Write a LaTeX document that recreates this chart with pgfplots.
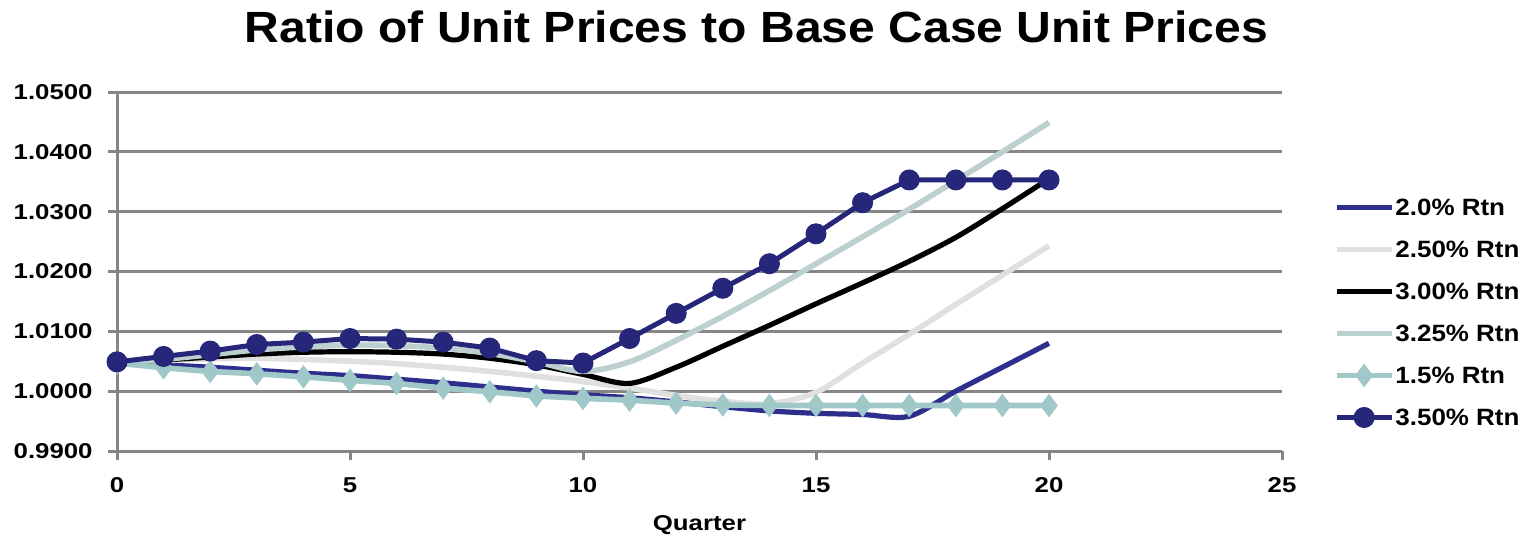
\documentclass[border=0pt]{standalone}
\usepackage{pgfplots}
\pgfplotsset{compat=1.18}
\usepackage{pgfplotstable}
\usepackage{fontspec}
\setmainfont{Liberation Sans}
\newfontfamily\titlefam{Liberation Sans}[FakeStretch=1.1]
\newfontfamily\tickfam{Liberation Sans}[FakeStretch=1.2]
\newfontfamily\legfam{Liberation Sans}[FakeStretch=1.1]

\definecolor{gridgray}{RGB}{134,134,134}
\definecolor{rtnA}{RGB}{46,46,140}   % 2.0%
\definecolor{rtnB}{RGB}{224,224,224} % 2.50%
\definecolor{rtnC}{RGB}{0,0,0}       % 3.00%
\definecolor{rtnD}{RGB}{188,208,208} % 3.25%
\definecolor{rtnE}{RGB}{160,200,200} % 1.5%
\definecolor{rtnF}{RGB}{38,38,122}   % 3.50%

% quarter  2.0   2.50   3.00   3.25   1.5   3.50
\pgfplotstableread{
q  r20     r25     r30     r325    r15     r35
0  1.0047  1.0047  1.0047  1.0047  1.0047  1.0049
1  1.0044  1.0051  1.0052  1.0053  1.0039  1.0058
2  1.0040  1.0054  1.0057  1.0061  1.0033  1.0067
3  1.0035  1.0055  1.0062  1.0069  1.0029  1.0078
4  1.0030  1.0053  1.0065  1.0074  1.0024  1.0082
5  1.0026  1.0050  1.0066  1.0077  1.0018  1.0088
6  1.0020  1.0046  1.0065  1.0076  1.0013  1.0087
7  1.0014  1.0040  1.0062  1.0072  1.0005  1.0082
8  1.0007  1.0033  1.0055  1.0063  0.9999  1.0072
9  1.0000  1.0025  1.0044  1.0049  0.9992  1.0051
10 0.9994  1.0016  1.0028  1.0033  0.9988  1.0047
11 0.9989  1.0005  1.0013  1.0049  0.9985  1.0088
12 0.9982  0.9993  1.0040  1.0085  0.9980  1.0130
13 0.9974  0.9983  1.0075  1.0125  0.9977  1.0172
14 0.9967  0.9979  1.0110  1.0168  0.9976  1.0213
15 0.9963  0.9998  1.0146  1.0213  0.9976  1.0263
16 0.9961  1.0047  1.0181  1.0258  0.9976  1.0315
17 0.9958  1.0095  1.0217  1.0304  0.9976  1.0353
18 1.0000  1.0145  1.0257  1.0352  0.9976  1.0353
19 1.0040  1.0194  1.0305  1.0400  0.9976  1.0353
20 1.0080  1.0243  1.0355  1.0449  0.9976  1.0353
}\rtndata

\begin{document}
\begin{tikzpicture}
\useasboundingbox (0,0) rectangle (763pt,268.5pt);
\begin{axis}[
  at={(58.5pt,43pt)}, anchor=south west,
  scale only axis, width=582.5pt, height=179.5pt,
  xmin=0, xmax=25, ymin=0.99, ymax=1.05,
  xtick={0,5,...,25},
  ytick={0.99,1.00,...,1.05},
  axis x line*=bottom, axis y line*=left,
  axis line style={gridgray, line width=1.5pt},
  ymajorgrids, major grid style={gridgray, line width=1.5pt},
  tick align=outside, major tick length=4.5pt,
  tick style={gridgray, line width=1.5pt},
  clip=false,
  /pgf/number format/assume math mode=true,
  y tick label style={/pgf/number format/fixed, /pgf/number format/fixed zerofill,
    /pgf/number format/precision=4},
  ticklabel style={font=\tickfam\bfseries\fontsize{10.75pt}{12pt}\selectfont, inner sep=0pt},
  yticklabel style={anchor=east, xshift=-7.5pt},
  xticklabel style={anchor=north, yshift=-8.5pt},
  xlabel={Quarter},
  xlabel style={font=\tickfam\bfseries\fontsize{10.75pt}{12pt}\selectfont,
    at={(axis description cs:0.5,0)}, anchor=base, yshift=-39.5pt},
  legend style={draw=none, fill=none, at={(1.0445,0.3858)}, anchor=west,
    inner sep=0pt, outer sep=0pt, row sep=0pt,
    font=\legfam\bfseries\fontsize{11.8pt}{13pt}\selectfont,
    nodes={inner sep=0pt, text height=14.7pt, text depth=6.3pt},
    /tikz/every odd column/.style={column sep=0.5pt}},
  legend cell align=left,
  legend image code/.code={
    \draw[#1, mark repeat=2, mark phase=2]
      plot coordinates {(0pt,0pt) (13.75pt,0pt) (27.5pt,0pt)};},
]
\addplot[rtnA, line width=2.6pt, smooth, no markers] table[x=q, y=r20] {\rtndata};
\addlegendentry{2.0\% Rtn}
\addplot[rtnB, line width=2.8pt, smooth, no markers] table[x=q, y=r25] {\rtndata};
\addlegendentry{2.50\% Rtn}
\addplot[rtnC, line width=2.6pt, smooth, no markers] table[x=q, y=r30] {\rtndata};
\addlegendentry{3.00\% Rtn}
\addplot[rtnD, line width=2.8pt, smooth, no markers] table[x=q, y=r325] {\rtndata};
\addlegendentry{3.25\% Rtn}
\addplot[rtnE, line width=2.8pt, mark=diamond*, mark size=5.5pt,
  mark options={fill=rtnE, draw=rtnE, line width=0.5pt}] table[x=q, y=r15] {\rtndata};
\addlegendentry{1.5\% Rtn}
\addplot[rtnF, line width=2.5pt, mark=*, mark size=5pt,
  mark options={fill=rtnF, draw=rtnF, line width=0.5pt}] table[x=q, y=r35] {\rtndata};
\addlegendentry{3.50\% Rtn}
\end{axis}
\node[anchor=base, font=\titlefam\bfseries\fontsize{21.85pt}{24pt}\selectfont]
  at (378.25pt,247.2pt) {Ratio of Unit Prices to Base Case Unit Prices};
\end{tikzpicture}
\end{document}
